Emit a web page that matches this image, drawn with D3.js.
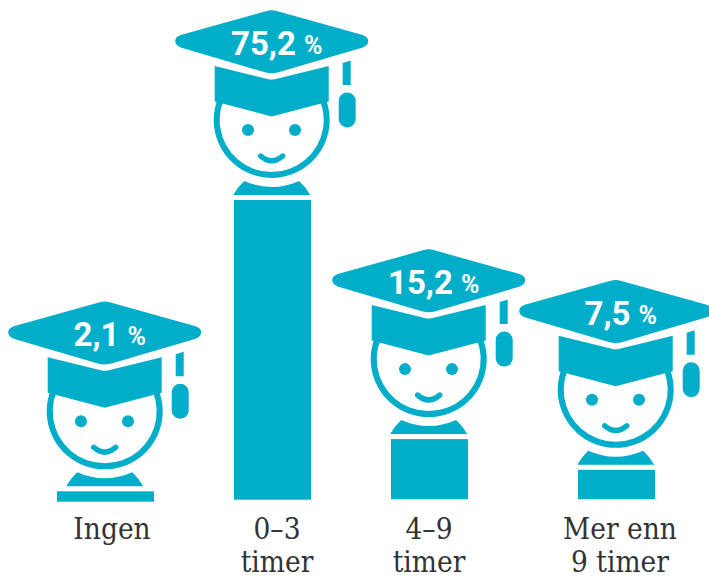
<!DOCTYPE html>
<html><head><meta charset="utf-8">
<script src="https://cdn.jsdelivr.net/npm/d3@7"></script>
<style>html,body{margin:0;padding:0;background:#fff}svg{display:block}</style>
</head><body><svg id="c" width="709" height="576"></svg>
<script>
const categories = ["Ingen","0–3 timer","4–9 timer","Mer enn 9 timer"];
const values = [2.1,75.2,15.2,7.5];
const valueLabels = ["2,1","75,2","15,2","7,5"];
const labelLines = [["Ingen"],["0–3","timer"],["4–9","timer"],["Mer enn","9 timer"]];

const COLOR="#00aec9", TEXT="#333333";
const svg=d3.select("#c");
const x=d3.scaleOrdinal().domain(categories).range([105.5,272.5,429.5,616.5]);
const barW=d3.scaleOrdinal().domain(categories).range([97,77,77,77]);
const barDrop=d3.scaleOrdinal().domain(categories).range([2,0,-0.5,-0.5]);
const labelX=d3.scaleOrdinal().domain(categories).range([112,277,429,620]);
const y=d3.scaleLinear().domain([0,75.2]).range([499.7,200]);
const ring=d3.arc().innerRadius(52).outerRadius(58).startAngle(1.0).endAngle(2*Math.PI-1.0);

categories.forEach((c,i)=>{
  const cx=x(c), top=y(values[i]);
  svg.append("rect").attr("x",cx-barW(c)/2).attr("y",top).attr("width",barW(c)).attr("height",y(0)+barDrop(c)-top).attr("fill",COLOR);
  const g=svg.append("g").attr("transform",`translate(${cx-0.8},${top})`);
  g.append("path").attr("fill",COLOR).attr("d","M-38.5,-5 Q-34,-13 -27.5,-19 Q0,-7 27.5,-19 Q34,-13 38.5,-5 Z");
  g.append("path").attr("fill",COLOR).attr("d",ring()).attr("transform","translate(0,-80)");
  g.append("circle").attr("cx",-23.7).attr("cy",-70).attr("r",6).attr("fill",COLOR);
  g.append("circle").attr("cx",23.3).attr("cy",-70).attr("r",6).attr("fill",COLOR);
  g.append("path").attr("fill","none").attr("stroke",COLOR).attr("stroke-width",5.4).attr("stroke-linecap","round")
    .attr("d","M-11,-44 Q0,-34.5 11,-44");
  // cap body
  g.append("path").attr("fill",COLOR).attr("d","M-57,-134 L-4,-121 Q0,-120 4,-121 L57,-134 L57,-98.5 L0,-83.5 L-57,-98.5 Z");
  // mortarboard
  g.append("path").attr("fill",COLOR).attr("d","M-5,-189 Q0,-190.5 5,-189 L91,-165 Q96.5,-163 96.5,-159 Q96.5,-155 91,-152.5 L6,-127.5 Q0,-126 -6,-127.5 L-91,-152.5 Q-96.5,-155 -96.5,-159 Q-96.5,-163 -91,-165 Z");
  // tassel
  g.append("path").attr("fill",COLOR).attr("d","M71,-137 L79,-139.5 L79,-115 L71,-115 Z");
  g.append("rect").attr("x",67).attr("y",-107.5).attr("width",17).attr("height",35).attr("rx",8.5).attr("fill",COLOR);
  // value label
  const t=g.append("text").attr("x",5).attr("y",-145).attr("text-anchor","middle")
    .attr("font-family","Roboto").attr("fill","#fff");
  t.append("tspan").attr("font-size",33).attr("font-weight",700).text(valueLabels[i]);
  t.append("tspan").attr("font-size",25).attr("font-weight",700).attr("dx",8).attr("dy",-1).text("%");
  // category labels
  labelLines[i].forEach((s,k)=>svg.append("text").attr("text-anchor","middle")
    .attr("font-family","DejaVu Serif").attr("font-size",29).attr("fill",TEXT)
    .attr("transform",`translate(${labelX(c)},${539+k*32.5}) scale(0.915,1)`).text(s));
});
</script></body></html>
